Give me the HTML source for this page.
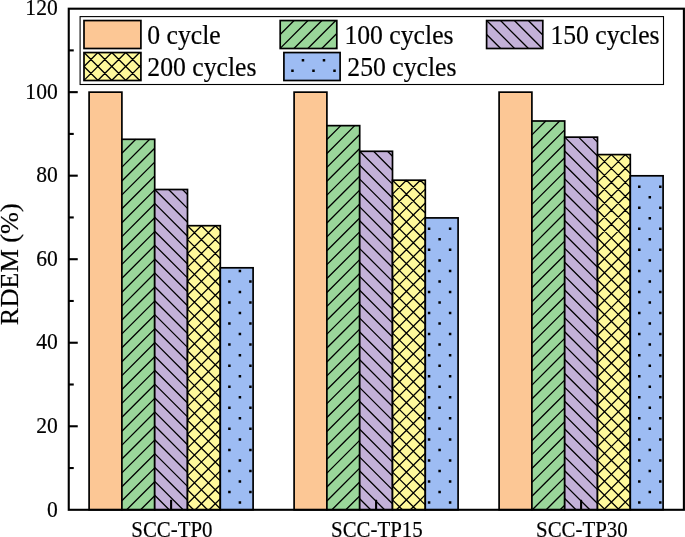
<!DOCTYPE html><html><head><meta charset="utf-8"><style>
html,body{margin:0;padding:0;background:#fff;width:685px;height:537px;overflow:hidden}
svg{display:block;will-change:transform}
text{font-family:"Liberation Serif",serif;fill:#000;stroke:#000;stroke-width:0.18px}
</style></head><body>
<svg width="685" height="537" viewBox="0 0 685 537">
<rect x="89.10" y="92.15" width="32.80" height="417.65" fill="#FCC795"/>
<rect x="89.10" y="92.15" width="32.8" height="417.65" fill="none" stroke="#000" stroke-width="1.7"/>
<rect x="121.90" y="139.30" width="32.80" height="370.50" fill="#9AD69A"/>
<path d="M121.90,153.20L135.80,139.30 M121.90,167.10L149.70,139.30 M121.90,181.00L154.70,148.20 M121.90,194.90L154.70,162.10 M121.90,208.80L154.70,176.00 M121.90,222.70L154.70,189.90 M121.90,236.60L154.70,203.80 M121.90,250.50L154.70,217.70 M121.90,264.40L154.70,231.60 M121.90,278.30L154.70,245.50 M121.90,292.20L154.70,259.40 M121.90,306.10L154.70,273.30 M121.90,320.00L154.70,287.20 M121.90,333.90L154.70,301.10 M121.90,347.80L154.70,315.00 M121.90,361.70L154.70,328.90 M121.90,375.60L154.70,342.80 M121.90,389.50L154.70,356.70 M121.90,403.40L154.70,370.60 M121.90,417.30L154.70,384.50 M121.90,431.20L154.70,398.40 M121.90,445.10L154.70,412.30 M121.90,459.00L154.70,426.20 M121.90,472.90L154.70,440.10 M121.90,486.80L154.70,454.00 M121.90,500.70L154.70,467.90 M126.70,509.80L154.70,481.80 M140.60,509.80L154.70,495.70" stroke="#000" stroke-width="1.3" fill="none"/>
<rect x="121.90" y="139.30" width="32.8" height="370.50" fill="none" stroke="#000" stroke-width="1.7"/>
<rect x="154.70" y="189.50" width="32.80" height="320.30" fill="#C3B1D8"/>
<path d="M154.70,509.20L155.30,509.80 M154.70,495.30L169.20,509.80 M154.70,481.40L183.10,509.80 M154.70,467.50L187.50,500.30 M154.70,453.60L187.50,486.40 M154.70,439.70L187.50,472.50 M154.70,425.80L187.50,458.60 M154.70,411.90L187.50,444.70 M154.70,398.00L187.50,430.80 M154.70,384.10L187.50,416.90 M154.70,370.20L187.50,403.00 M154.70,356.30L187.50,389.10 M154.70,342.40L187.50,375.20 M154.70,328.50L187.50,361.30 M154.70,314.60L187.50,347.40 M154.70,300.70L187.50,333.50 M154.70,286.80L187.50,319.60 M154.70,272.90L187.50,305.70 M154.70,259.00L187.50,291.80 M154.70,245.10L187.50,277.90 M154.70,231.20L187.50,264.00 M154.70,217.30L187.50,250.10 M154.70,203.40L187.50,236.20 M154.70,189.50L187.50,222.30 M168.60,189.50L187.50,208.40 M182.50,189.50L187.50,194.50" stroke="#000" stroke-width="1.3" fill="none"/>
<rect x="154.70" y="189.50" width="32.8" height="320.30" fill="none" stroke="#000" stroke-width="1.7"/>
<rect x="187.50" y="225.70" width="32.80" height="284.10" fill="#FFF99B"/>
<path d="M187.50,239.60L201.40,225.70 M187.50,253.50L215.30,225.70 M187.50,267.40L220.30,234.60 M187.50,281.30L220.30,248.50 M187.50,295.20L220.30,262.40 M187.50,309.10L220.30,276.30 M187.50,323.00L220.30,290.20 M187.50,336.90L220.30,304.10 M187.50,350.80L220.30,318.00 M187.50,364.70L220.30,331.90 M187.50,378.60L220.30,345.80 M187.50,392.50L220.30,359.70 M187.50,406.40L220.30,373.60 M187.50,420.30L220.30,387.50 M187.50,434.20L220.30,401.40 M187.50,448.10L220.30,415.30 M187.50,462.00L220.30,429.20 M187.50,475.90L220.30,443.10 M187.50,489.80L220.30,457.00 M187.50,503.70L220.30,470.90 M195.30,509.80L220.30,484.80 M209.20,509.80L220.30,498.70 M187.50,503.70L193.60,509.80 M187.50,489.80L207.50,509.80 M187.50,475.90L220.30,508.70 M187.50,462.00L220.30,494.80 M187.50,448.10L220.30,480.90 M187.50,434.20L220.30,467.00 M187.50,420.30L220.30,453.10 M187.50,406.40L220.30,439.20 M187.50,392.50L220.30,425.30 M187.50,378.60L220.30,411.40 M187.50,364.70L220.30,397.50 M187.50,350.80L220.30,383.60 M187.50,336.90L220.30,369.70 M187.50,323.00L220.30,355.80 M187.50,309.10L220.30,341.90 M187.50,295.20L220.30,328.00 M187.50,281.30L220.30,314.10 M187.50,267.40L220.30,300.20 M187.50,253.50L220.30,286.30 M187.50,239.60L220.30,272.40 M187.50,225.70L220.30,258.50 M201.40,225.70L220.30,244.60 M215.30,225.70L220.30,230.70" stroke="#000" stroke-width="1.3" fill="none"/>
<rect x="187.50" y="225.70" width="32.8" height="284.10" fill="none" stroke="#000" stroke-width="1.7"/>
<rect x="220.30" y="267.80" width="32.80" height="242.00" fill="#9DBCF3"/>
<path d="M228.15,280.19h2.5v2.5h-2.5zM228.15,301.25h2.5v2.5h-2.5zM228.15,322.31h2.5v2.5h-2.5zM228.15,343.37h2.5v2.5h-2.5zM228.15,364.43h2.5v2.5h-2.5zM228.15,385.49h2.5v2.5h-2.5zM228.15,406.55h2.5v2.5h-2.5zM228.15,427.61h2.5v2.5h-2.5zM228.15,448.67h2.5v2.5h-2.5zM228.15,469.73h2.5v2.5h-2.5zM228.15,490.79h2.5v2.5h-2.5zM238.66,269.66h2.5v2.5h-2.5zM238.66,290.72h2.5v2.5h-2.5zM238.66,311.78h2.5v2.5h-2.5zM238.66,332.84h2.5v2.5h-2.5zM238.66,353.90h2.5v2.5h-2.5zM238.66,374.96h2.5v2.5h-2.5zM238.66,396.02h2.5v2.5h-2.5zM238.66,417.08h2.5v2.5h-2.5zM238.66,438.14h2.5v2.5h-2.5zM238.66,459.20h2.5v2.5h-2.5zM238.66,480.26h2.5v2.5h-2.5zM238.66,501.32h2.5v2.5h-2.5zM249.17,280.19h2.5v2.5h-2.5zM249.17,301.25h2.5v2.5h-2.5zM249.17,322.31h2.5v2.5h-2.5zM249.17,343.37h2.5v2.5h-2.5zM249.17,364.43h2.5v2.5h-2.5zM249.17,385.49h2.5v2.5h-2.5zM249.17,406.55h2.5v2.5h-2.5zM249.17,427.61h2.5v2.5h-2.5zM249.17,448.67h2.5v2.5h-2.5zM249.17,469.73h2.5v2.5h-2.5zM249.17,490.79h2.5v2.5h-2.5z" fill="#000"/>
<rect x="220.30" y="267.80" width="32.8" height="242.00" fill="none" stroke="#000" stroke-width="1.7"/>
<rect x="294.10" y="92.15" width="32.80" height="417.65" fill="#FCC795"/>
<rect x="294.10" y="92.15" width="32.8" height="417.65" fill="none" stroke="#000" stroke-width="1.7"/>
<rect x="326.90" y="125.65" width="32.80" height="384.15" fill="#9AD69A"/>
<path d="M326.90,139.55L340.80,125.65 M326.90,153.45L354.70,125.65 M326.90,167.35L359.70,134.55 M326.90,181.25L359.70,148.45 M326.90,195.15L359.70,162.35 M326.90,209.05L359.70,176.25 M326.90,222.95L359.70,190.15 M326.90,236.85L359.70,204.05 M326.90,250.75L359.70,217.95 M326.90,264.65L359.70,231.85 M326.90,278.55L359.70,245.75 M326.90,292.45L359.70,259.65 M326.90,306.35L359.70,273.55 M326.90,320.25L359.70,287.45 M326.90,334.15L359.70,301.35 M326.90,348.05L359.70,315.25 M326.90,361.95L359.70,329.15 M326.90,375.85L359.70,343.05 M326.90,389.75L359.70,356.95 M326.90,403.65L359.70,370.85 M326.90,417.55L359.70,384.75 M326.90,431.45L359.70,398.65 M326.90,445.35L359.70,412.55 M326.90,459.25L359.70,426.45 M326.90,473.15L359.70,440.35 M326.90,487.05L359.70,454.25 M326.90,500.95L359.70,468.15 M331.95,509.80L359.70,482.05 M345.85,509.80L359.70,495.95" stroke="#000" stroke-width="1.3" fill="none"/>
<rect x="326.90" y="125.65" width="32.8" height="384.15" fill="none" stroke="#000" stroke-width="1.7"/>
<rect x="359.70" y="151.30" width="32.80" height="358.50" fill="#C3B1D8"/>
<path d="M359.70,498.80L370.70,509.80 M359.70,484.90L384.60,509.80 M359.70,471.00L392.50,503.80 M359.70,457.10L392.50,489.90 M359.70,443.20L392.50,476.00 M359.70,429.30L392.50,462.10 M359.70,415.40L392.50,448.20 M359.70,401.50L392.50,434.30 M359.70,387.60L392.50,420.40 M359.70,373.70L392.50,406.50 M359.70,359.80L392.50,392.60 M359.70,345.90L392.50,378.70 M359.70,332.00L392.50,364.80 M359.70,318.10L392.50,350.90 M359.70,304.20L392.50,337.00 M359.70,290.30L392.50,323.10 M359.70,276.40L392.50,309.20 M359.70,262.50L392.50,295.30 M359.70,248.60L392.50,281.40 M359.70,234.70L392.50,267.50 M359.70,220.80L392.50,253.60 M359.70,206.90L392.50,239.70 M359.70,193.00L392.50,225.80 M359.70,179.10L392.50,211.90 M359.70,165.20L392.50,198.00 M359.70,151.30L392.50,184.10 M373.60,151.30L392.50,170.20 M387.50,151.30L392.50,156.30" stroke="#000" stroke-width="1.3" fill="none"/>
<rect x="359.70" y="151.30" width="32.8" height="358.50" fill="none" stroke="#000" stroke-width="1.7"/>
<rect x="392.50" y="180.20" width="32.80" height="329.60" fill="#FFF99B"/>
<path d="M392.50,194.10L406.40,180.20 M392.50,208.00L420.30,180.20 M392.50,221.90L425.30,189.10 M392.50,235.80L425.30,203.00 M392.50,249.70L425.30,216.90 M392.50,263.60L425.30,230.80 M392.50,277.50L425.30,244.70 M392.50,291.40L425.30,258.60 M392.50,305.30L425.30,272.50 M392.50,319.20L425.30,286.40 M392.50,333.10L425.30,300.30 M392.50,347.00L425.30,314.20 M392.50,360.90L425.30,328.10 M392.50,374.80L425.30,342.00 M392.50,388.70L425.30,355.90 M392.50,402.60L425.30,369.80 M392.50,416.50L425.30,383.70 M392.50,430.40L425.30,397.60 M392.50,444.30L425.30,411.50 M392.50,458.20L425.30,425.40 M392.50,472.10L425.30,439.30 M392.50,486.00L425.30,453.20 M392.50,499.90L425.30,467.10 M396.50,509.80L425.30,481.00 M410.40,509.80L425.30,494.90 M424.30,509.80L425.30,508.80 M392.50,499.90L402.40,509.80 M392.50,486.00L416.30,509.80 M392.50,472.10L425.30,504.90 M392.50,458.20L425.30,491.00 M392.50,444.30L425.30,477.10 M392.50,430.40L425.30,463.20 M392.50,416.50L425.30,449.30 M392.50,402.60L425.30,435.40 M392.50,388.70L425.30,421.50 M392.50,374.80L425.30,407.60 M392.50,360.90L425.30,393.70 M392.50,347.00L425.30,379.80 M392.50,333.10L425.30,365.90 M392.50,319.20L425.30,352.00 M392.50,305.30L425.30,338.10 M392.50,291.40L425.30,324.20 M392.50,277.50L425.30,310.30 M392.50,263.60L425.30,296.40 M392.50,249.70L425.30,282.50 M392.50,235.80L425.30,268.60 M392.50,221.90L425.30,254.70 M392.50,208.00L425.30,240.80 M392.50,194.10L425.30,226.90 M392.50,180.20L425.30,213.00 M406.40,180.20L425.30,199.10 M420.30,180.20L425.30,185.20" stroke="#000" stroke-width="1.3" fill="none"/>
<rect x="392.50" y="180.20" width="32.8" height="329.60" fill="none" stroke="#000" stroke-width="1.7"/>
<rect x="425.30" y="217.90" width="32.80" height="291.90" fill="#9DBCF3"/>
<path d="M427.84,227.54h2.5v2.5h-2.5zM427.84,248.60h2.5v2.5h-2.5zM427.84,269.66h2.5v2.5h-2.5zM427.84,290.72h2.5v2.5h-2.5zM427.84,311.78h2.5v2.5h-2.5zM427.84,332.84h2.5v2.5h-2.5zM427.84,353.90h2.5v2.5h-2.5zM427.84,374.96h2.5v2.5h-2.5zM427.84,396.02h2.5v2.5h-2.5zM427.84,417.08h2.5v2.5h-2.5zM427.84,438.14h2.5v2.5h-2.5zM427.84,459.20h2.5v2.5h-2.5zM427.84,480.26h2.5v2.5h-2.5zM427.84,501.32h2.5v2.5h-2.5zM438.35,238.07h2.5v2.5h-2.5zM438.35,259.13h2.5v2.5h-2.5zM438.35,280.19h2.5v2.5h-2.5zM438.35,301.25h2.5v2.5h-2.5zM438.35,322.31h2.5v2.5h-2.5zM438.35,343.37h2.5v2.5h-2.5zM438.35,364.43h2.5v2.5h-2.5zM438.35,385.49h2.5v2.5h-2.5zM438.35,406.55h2.5v2.5h-2.5zM438.35,427.61h2.5v2.5h-2.5zM438.35,448.67h2.5v2.5h-2.5zM438.35,469.73h2.5v2.5h-2.5zM438.35,490.79h2.5v2.5h-2.5zM448.86,227.54h2.5v2.5h-2.5zM448.86,248.60h2.5v2.5h-2.5zM448.86,269.66h2.5v2.5h-2.5zM448.86,290.72h2.5v2.5h-2.5zM448.86,311.78h2.5v2.5h-2.5zM448.86,332.84h2.5v2.5h-2.5zM448.86,353.90h2.5v2.5h-2.5zM448.86,374.96h2.5v2.5h-2.5zM448.86,396.02h2.5v2.5h-2.5zM448.86,417.08h2.5v2.5h-2.5zM448.86,438.14h2.5v2.5h-2.5zM448.86,459.20h2.5v2.5h-2.5zM448.86,480.26h2.5v2.5h-2.5zM448.86,501.32h2.5v2.5h-2.5z" fill="#000"/>
<rect x="425.30" y="217.90" width="32.8" height="291.90" fill="none" stroke="#000" stroke-width="1.7"/>
<rect x="499.10" y="92.15" width="32.80" height="417.65" fill="#FCC795"/>
<rect x="499.10" y="92.15" width="32.8" height="417.65" fill="none" stroke="#000" stroke-width="1.7"/>
<rect x="531.90" y="121.00" width="32.80" height="388.80" fill="#9AD69A"/>
<path d="M531.90,134.90L545.80,121.00 M531.90,148.80L559.70,121.00 M531.90,162.70L564.70,129.90 M531.90,176.60L564.70,143.80 M531.90,190.50L564.70,157.70 M531.90,204.40L564.70,171.60 M531.90,218.30L564.70,185.50 M531.90,232.20L564.70,199.40 M531.90,246.10L564.70,213.30 M531.90,260.00L564.70,227.20 M531.90,273.90L564.70,241.10 M531.90,287.80L564.70,255.00 M531.90,301.70L564.70,268.90 M531.90,315.60L564.70,282.80 M531.90,329.50L564.70,296.70 M531.90,343.40L564.70,310.60 M531.90,357.30L564.70,324.50 M531.90,371.20L564.70,338.40 M531.90,385.10L564.70,352.30 M531.90,399.00L564.70,366.20 M531.90,412.90L564.70,380.10 M531.90,426.80L564.70,394.00 M531.90,440.70L564.70,407.90 M531.90,454.60L564.70,421.80 M531.90,468.50L564.70,435.70 M531.90,482.40L564.70,449.60 M531.90,496.30L564.70,463.50 M532.30,509.80L564.70,477.40 M546.20,509.80L564.70,491.30 M560.10,509.80L564.70,505.20" stroke="#000" stroke-width="1.3" fill="none"/>
<rect x="531.90" y="121.00" width="32.8" height="388.80" fill="none" stroke="#000" stroke-width="1.7"/>
<rect x="564.70" y="137.15" width="32.80" height="372.65" fill="#C3B1D8"/>
<path d="M564.70,498.55L575.95,509.80 M564.70,484.65L589.85,509.80 M564.70,470.75L597.50,503.55 M564.70,456.85L597.50,489.65 M564.70,442.95L597.50,475.75 M564.70,429.05L597.50,461.85 M564.70,415.15L597.50,447.95 M564.70,401.25L597.50,434.05 M564.70,387.35L597.50,420.15 M564.70,373.45L597.50,406.25 M564.70,359.55L597.50,392.35 M564.70,345.65L597.50,378.45 M564.70,331.75L597.50,364.55 M564.70,317.85L597.50,350.65 M564.70,303.95L597.50,336.75 M564.70,290.05L597.50,322.85 M564.70,276.15L597.50,308.95 M564.70,262.25L597.50,295.05 M564.70,248.35L597.50,281.15 M564.70,234.45L597.50,267.25 M564.70,220.55L597.50,253.35 M564.70,206.65L597.50,239.45 M564.70,192.75L597.50,225.55 M564.70,178.85L597.50,211.65 M564.70,164.95L597.50,197.75 M564.70,151.05L597.50,183.85 M564.70,137.15L597.50,169.95 M578.60,137.15L597.50,156.05 M592.50,137.15L597.50,142.15" stroke="#000" stroke-width="1.3" fill="none"/>
<rect x="564.70" y="137.15" width="32.8" height="372.65" fill="none" stroke="#000" stroke-width="1.7"/>
<rect x="597.50" y="154.60" width="32.80" height="355.20" fill="#FFF99B"/>
<path d="M597.50,168.50L611.40,154.60 M597.50,182.40L625.30,154.60 M597.50,196.30L630.30,163.50 M597.50,210.20L630.30,177.40 M597.50,224.10L630.30,191.30 M597.50,238.00L630.30,205.20 M597.50,251.90L630.30,219.10 M597.50,265.80L630.30,233.00 M597.50,279.70L630.30,246.90 M597.50,293.60L630.30,260.80 M597.50,307.50L630.30,274.70 M597.50,321.40L630.30,288.60 M597.50,335.30L630.30,302.50 M597.50,349.20L630.30,316.40 M597.50,363.10L630.30,330.30 M597.50,377.00L630.30,344.20 M597.50,390.90L630.30,358.10 M597.50,404.80L630.30,372.00 M597.50,418.70L630.30,385.90 M597.50,432.60L630.30,399.80 M597.50,446.50L630.30,413.70 M597.50,460.40L630.30,427.60 M597.50,474.30L630.30,441.50 M597.50,488.20L630.30,455.40 M597.50,502.10L630.30,469.30 M603.70,509.80L630.30,483.20 M617.60,509.80L630.30,497.10 M597.50,502.10L605.20,509.80 M597.50,488.20L619.10,509.80 M597.50,474.30L630.30,507.10 M597.50,460.40L630.30,493.20 M597.50,446.50L630.30,479.30 M597.50,432.60L630.30,465.40 M597.50,418.70L630.30,451.50 M597.50,404.80L630.30,437.60 M597.50,390.90L630.30,423.70 M597.50,377.00L630.30,409.80 M597.50,363.10L630.30,395.90 M597.50,349.20L630.30,382.00 M597.50,335.30L630.30,368.10 M597.50,321.40L630.30,354.20 M597.50,307.50L630.30,340.30 M597.50,293.60L630.30,326.40 M597.50,279.70L630.30,312.50 M597.50,265.80L630.30,298.60 M597.50,251.90L630.30,284.70 M597.50,238.00L630.30,270.80 M597.50,224.10L630.30,256.90 M597.50,210.20L630.30,243.00 M597.50,196.30L630.30,229.10 M597.50,182.40L630.30,215.20 M597.50,168.50L630.30,201.30 M597.50,154.60L630.30,187.40 M611.40,154.60L630.30,173.50 M625.30,154.60L630.30,159.60" stroke="#000" stroke-width="1.3" fill="none"/>
<rect x="597.50" y="154.60" width="32.8" height="355.20" fill="none" stroke="#000" stroke-width="1.7"/>
<rect x="630.30" y="175.80" width="32.80" height="334.00" fill="#9DBCF3"/>
<path d="M638.04,185.42h2.5v2.5h-2.5zM638.04,206.48h2.5v2.5h-2.5zM638.04,227.54h2.5v2.5h-2.5zM638.04,248.60h2.5v2.5h-2.5zM638.04,269.66h2.5v2.5h-2.5zM638.04,290.72h2.5v2.5h-2.5zM638.04,311.78h2.5v2.5h-2.5zM638.04,332.84h2.5v2.5h-2.5zM638.04,353.90h2.5v2.5h-2.5zM638.04,374.96h2.5v2.5h-2.5zM638.04,396.02h2.5v2.5h-2.5zM638.04,417.08h2.5v2.5h-2.5zM638.04,438.14h2.5v2.5h-2.5zM638.04,459.20h2.5v2.5h-2.5zM638.04,480.26h2.5v2.5h-2.5zM638.04,501.32h2.5v2.5h-2.5zM648.55,195.95h2.5v2.5h-2.5zM648.55,217.01h2.5v2.5h-2.5zM648.55,238.07h2.5v2.5h-2.5zM648.55,259.13h2.5v2.5h-2.5zM648.55,280.19h2.5v2.5h-2.5zM648.55,301.25h2.5v2.5h-2.5zM648.55,322.31h2.5v2.5h-2.5zM648.55,343.37h2.5v2.5h-2.5zM648.55,364.43h2.5v2.5h-2.5zM648.55,385.49h2.5v2.5h-2.5zM648.55,406.55h2.5v2.5h-2.5zM648.55,427.61h2.5v2.5h-2.5zM648.55,448.67h2.5v2.5h-2.5zM648.55,469.73h2.5v2.5h-2.5zM648.55,490.79h2.5v2.5h-2.5zM659.06,185.42h2.5v2.5h-2.5zM659.06,206.48h2.5v2.5h-2.5zM659.06,227.54h2.5v2.5h-2.5zM659.06,248.60h2.5v2.5h-2.5zM659.06,269.66h2.5v2.5h-2.5zM659.06,290.72h2.5v2.5h-2.5zM659.06,311.78h2.5v2.5h-2.5zM659.06,332.84h2.5v2.5h-2.5zM659.06,353.90h2.5v2.5h-2.5zM659.06,374.96h2.5v2.5h-2.5zM659.06,396.02h2.5v2.5h-2.5zM659.06,417.08h2.5v2.5h-2.5zM659.06,438.14h2.5v2.5h-2.5zM659.06,459.20h2.5v2.5h-2.5zM659.06,480.26h2.5v2.5h-2.5zM659.06,501.32h2.5v2.5h-2.5z" fill="#000"/>
<rect x="630.30" y="175.80" width="32.8" height="334.00" fill="none" stroke="#000" stroke-width="1.7"/>
<rect x="68.75" y="8.7" width="615.15" height="501.10" fill="none" stroke="#000" stroke-width="2.1"/>
<text transform="translate(57.75,516.50) scale(1,1.086)" font-size="21.6" text-anchor="end">0</text>
<line x1="68.75" y1="468.04" x2="73.75" y2="468.04" stroke="#000" stroke-width="2.1"/>
<line x1="68.75" y1="426.27" x2="77.75" y2="426.27" stroke="#000" stroke-width="2.1"/>
<text transform="translate(57.75,432.97) scale(1,1.086)" font-size="21.6" text-anchor="end">20</text>
<line x1="68.75" y1="384.50" x2="73.75" y2="384.50" stroke="#000" stroke-width="2.1"/>
<line x1="68.75" y1="342.74" x2="77.75" y2="342.74" stroke="#000" stroke-width="2.1"/>
<text transform="translate(57.75,349.44) scale(1,1.086)" font-size="21.6" text-anchor="end">40</text>
<line x1="68.75" y1="300.98" x2="73.75" y2="300.98" stroke="#000" stroke-width="2.1"/>
<line x1="68.75" y1="259.21" x2="77.75" y2="259.21" stroke="#000" stroke-width="2.1"/>
<text transform="translate(57.75,265.91) scale(1,1.086)" font-size="21.6" text-anchor="end">60</text>
<line x1="68.75" y1="217.44" x2="73.75" y2="217.44" stroke="#000" stroke-width="2.1"/>
<line x1="68.75" y1="175.68" x2="77.75" y2="175.68" stroke="#000" stroke-width="2.1"/>
<text transform="translate(57.75,182.38) scale(1,1.086)" font-size="21.6" text-anchor="end">80</text>
<line x1="68.75" y1="133.92" x2="73.75" y2="133.92" stroke="#000" stroke-width="2.1"/>
<line x1="68.75" y1="92.15" x2="77.75" y2="92.15" stroke="#000" stroke-width="2.1"/>
<text transform="translate(57.75,98.85) scale(1,1.086)" font-size="21.6" text-anchor="end">100</text>
<line x1="68.75" y1="50.39" x2="73.75" y2="50.39" stroke="#000" stroke-width="2.1"/>
<text transform="translate(57.75,15.32) scale(1,1.086)" font-size="21.6" text-anchor="end">120</text>
<line x1="171.10" y1="509.8" x2="171.10" y2="499.8" stroke="#000" stroke-width="2.1"/>
<text transform="translate(171.90,536.8) scale(1,1.12)" font-size="20.9" text-anchor="middle">SCC-TP0</text>
<line x1="376.10" y1="509.8" x2="376.10" y2="499.8" stroke="#000" stroke-width="2.1"/>
<text transform="translate(376.90,536.8) scale(1,1.12)" font-size="20.9" text-anchor="middle">SCC-TP15</text>
<line x1="581.10" y1="509.8" x2="581.10" y2="499.8" stroke="#000" stroke-width="2.1"/>
<text transform="translate(581.90,536.8) scale(1,1.12)" font-size="20.9" text-anchor="middle">SCC-TP30</text>
<text transform="translate(17.6,264.2) scale(1,1.086) rotate(-90)" font-size="24.2" text-anchor="middle">RDEM (%)</text>
<rect x="80.1" y="16.6" width="583.4" height="67.9" fill="#fff" stroke="#000" stroke-width="1.1"/>
<rect x="84.00" y="20.55" width="56.90" height="27.95" fill="#FCC795"/>
<rect x="84.0" y="20.55" width="56.9" height="27.95" fill="none" stroke="#000" stroke-width="1.7"/>
<text transform="translate(147.30,43.65) scale(1,1.086)" font-size="25.7">0 cycle</text>
<rect x="280.20" y="20.55" width="56.60" height="27.95" fill="#9AD69A"/>
<path d="M280.20,34.45L294.10,20.55 M280.20,48.35L308.00,20.55 M293.95,48.50L321.90,20.55 M307.85,48.50L335.80,20.55 M321.75,48.50L336.80,33.45 M335.65,48.50L336.80,47.35" stroke="#000" stroke-width="1.3" fill="none"/>
<rect x="280.2" y="20.55" width="56.6" height="27.95" fill="none" stroke="#000" stroke-width="1.7"/>
<text transform="translate(344.40,43.65) scale(1,1.086)" font-size="25.7">100 cycles</text>
<rect x="486.60" y="20.55" width="56.20" height="27.95" fill="#C3B1D8"/>
<path d="M486.60,34.45L500.65,48.50 M486.60,20.55L514.55,48.50 M500.50,20.55L528.45,48.50 M514.40,20.55L542.35,48.50 M528.30,20.55L542.80,35.05 M542.20,20.55L542.80,21.15" stroke="#000" stroke-width="1.3" fill="none"/>
<rect x="486.6" y="20.55" width="56.2" height="27.95" fill="none" stroke="#000" stroke-width="1.7"/>
<text transform="translate(550.40,43.65) scale(1,1.086)" font-size="25.7">150 cycles</text>
<rect x="84.00" y="52.55" width="56.90" height="27.95" fill="#FFF99B"/>
<path d="M84.00,66.45L97.90,52.55 M84.00,80.35L111.80,52.55 M97.75,80.50L125.70,52.55 M111.65,80.50L139.60,52.55 M125.55,80.50L140.90,65.15 M139.45,80.50L140.90,79.05 M84.00,66.45L98.05,80.50 M84.00,52.55L111.95,80.50 M97.90,52.55L125.85,80.50 M111.80,52.55L139.75,80.50 M125.70,52.55L140.90,67.75 M139.60,52.55L140.90,53.85" stroke="#000" stroke-width="1.3" fill="none"/>
<rect x="84.0" y="52.55" width="56.9" height="27.95" fill="none" stroke="#000" stroke-width="1.7"/>
<text transform="translate(147.30,75.65) scale(1,1.086)" font-size="25.7">200 cycles</text>
<rect x="283.90" y="52.55" width="56.20" height="27.95" fill="#9DBCF3"/>
<path d="M291.21,69.59h2.5v2.5h-2.5zM301.72,59.06h2.5v2.5h-2.5zM312.23,69.59h2.5v2.5h-2.5zM322.74,59.06h2.5v2.5h-2.5zM333.25,69.59h2.5v2.5h-2.5z" fill="#000"/>
<rect x="283.9" y="52.55" width="56.2" height="27.95" fill="none" stroke="#000" stroke-width="1.7"/>
<text transform="translate(347.30,75.65) scale(1,1.086)" font-size="25.7">250 cycles</text>
</svg></body></html>
